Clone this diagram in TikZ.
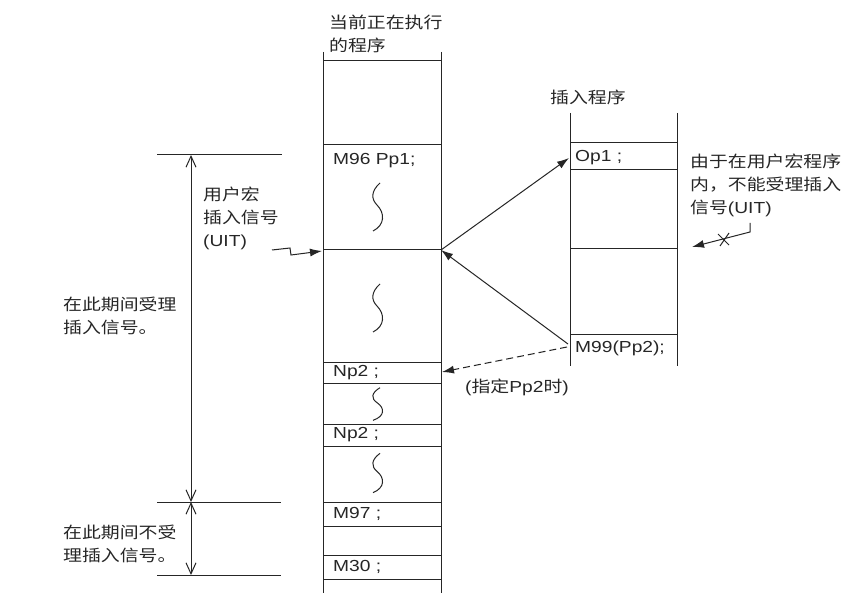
\documentclass[tikz,border=0pt]{standalone}
\usepackage{fontspec}
\setmainfont[FakeStretch=1.2]{Liberation Sans}
\newfontfamily\cjk[FakeStretch=1.18]{Noto Sans CJK SC}
\usetikzlibrary{arrows.meta}
\begin{document}
\begin{tikzpicture}[x=1pt,y=-1pt,
  ln/.style={line width=1pt, draw=black!85},
  txt/.style={inner sep=0pt, anchor=west, text=black!85, font=\fontsize{16}{23}\selectfont, align=left},
  dim/.style={ln, {Straight Barb[length=11pt,width=10pt]}-{Straight Barb[length=11pt,width=10pt]}},
  fa/.style={ln, -{Latex[length=12pt,width=8pt]}},
  squig/.pic={\draw[ln] (3,-24) .. controls (-6,-16) and (-6,-8) .. (0,-2) .. controls (8,6) and (8,18) .. (-4,24);}
]
\fill[white] (0,0) rectangle (864,612);
\useasboundingbox (0,0) rectangle (864,612);

% main column
\draw[ln] (323,52) -- (323,593);
\draw[ln] (441,52) -- (441,593);
\foreach \yy in {61,145,250,362,383,424,446,502,526,555,579}
  \draw[ln] (323,\yy) -- (441,\yy);
% squiggles
\pic at (377,207) {squig};
\pic[yscale=1] at (377,308) {squig};
\pic[yscale=0.68] at (377,404) {squig};
\pic[yscale=0.82] at (377,473) {squig};

% right column
\draw[ln] (570,113) -- (570,366);
\draw[ln] (677,113) -- (677,366);
\foreach \yy in {143,170,249,334}
  \draw[ln] (570,\yy) -- (677,\yy);

% left dimension lines
\draw[ln] (157,155) -- (282,155);
\draw[ln] (157,502) -- (281,502);
\draw[ln] (157,575) -- (281,575);
\coordinate (d1) at (191,155);
\coordinate (d2) at (191,502);
\coordinate (d3) at (191,575);
\draw[dim] (d1) -- (d2);
\draw[dim] (d2) -- (d3);

% texts
\node[txt] (title) at (329,33.5) {\cjk 当前正在执行\\\cjk 的程序};
\node[txt] (ins) at (550,97) {\cjk 插入程序};
\node[txt] (m96) at (333,161) {M96 Pp1;};
\node[txt] (np2a) at (333,373) {Np2 ;};
\node[txt] (np2b) at (333,435) {Np2 ;};
\node[txt] (m97) at (333,514) {M97 ;};
\node[txt] (m30) at (333,567) {M30 ;};
\node[txt] (op1) at (575,158) {Op1 ;};
\node[txt] (m99) at (575,348) {M99(Pp2);};
\node[txt] (uit) at (203,218) {\cjk 用户宏\\\cjk 插入信号\\(UIT)};
\node[txt] (acc) at (63,316) {\cjk 在此期间受理\\\cjk 插入信号。};
\node[txt] (nacc) at (63,543.5) {\cjk 在此期间不受\\\cjk 理插入信号。};
\node[txt] (note) at (690,185) {\cjk 由于在用户宏程序\\\cjk 内，不能受理插入\\{\cjk 信号}(UIT)};
\node[txt] (pp2) at (465,387) {({\cjk 指定}Pp2{\cjk 时})};

% connectors
\coordinate (mj) at (441,250);
\coordinate (opL) at (569,158);
\coordinate (m99L) at (568,344);
\coordinate (m99D) at (567,347);
\coordinate (np2R) at (442,372);
\draw[fa] (mj) -- (opL);
\draw[fa] (m99L) -- (mj);
\draw[fa, dashed, dash pattern=on 7pt off 4pt] (m99D) -- (np2R);

% UIT signal
\coordinate (s0) at (272,250);
\coordinate (mjL) at (322,251);
\draw[fa] (s0) -- (290,248) -- (291,255) -- (mjL);

% rejected signal
\coordinate (r0) at (750,223);
\coordinate (rT) at (692,247);
\draw[fa] (r0) -- (750,232) -- (rT);
\draw[ln] (718,234) -- (729,245);
\draw[ln] (729,233) -- (720,246);
\end{tikzpicture}
\end{document}
